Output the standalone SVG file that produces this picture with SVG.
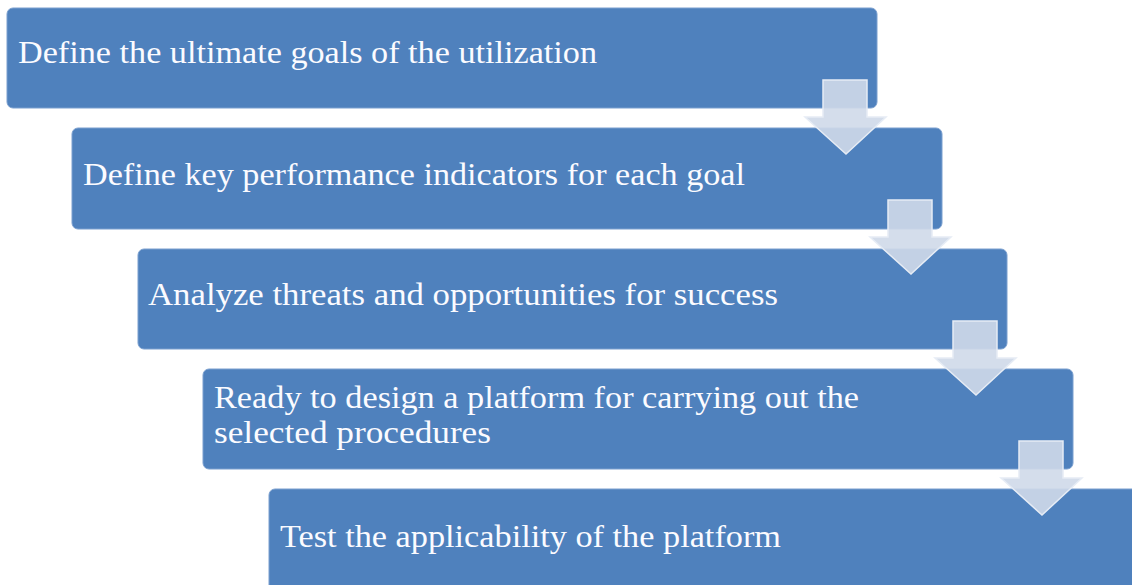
<svg xmlns="http://www.w3.org/2000/svg" width="1132" height="585" viewBox="0 0 1132 585">
  <style>
    .step { fill: #4f81bd; stroke: #7a9fcf; stroke-width: 1; }
    .label { font-family: "Liberation Serif", "DejaVu Serif", serif; font-size: 31px; fill: #fbfbff; }
    .down { fill: #cfd9e9; fill-opacity: 0.9; stroke: #e6ecf5; stroke-width: 1.5; }
  </style>
  <rect width="1132" height="585" fill="#ffffff"/>

  <g id="step1">
    <rect class="step" x="7" y="8" width="870" height="100" rx="6"/>
    <text class="label" x="18" y="63" textLength="579" lengthAdjust="spacingAndGlyphs">Define the ultimate goals of the utilization</text>
  </g>
  <g id="step2">
    <rect class="step" x="72" y="128" width="870" height="101" rx="6"/>
    <text class="label" x="83" y="185" textLength="662" lengthAdjust="spacingAndGlyphs">Define key performance indicators for each goal</text>
  </g>
  <g id="step3">
    <rect class="step" x="138" y="249" width="869" height="100" rx="6"/>
    <text class="label" x="148" y="305" textLength="630" lengthAdjust="spacingAndGlyphs">Analyze threats and opportunities for success</text>
  </g>
  <g id="step4">
    <rect class="step" x="203" y="369" width="870" height="100" rx="6"/>
    <text class="label" x="214" y="408" textLength="645" lengthAdjust="spacingAndGlyphs">Ready to design a platform for carrying out the</text>
    <text class="label" x="214" y="443" textLength="277" lengthAdjust="spacingAndGlyphs">selected procedures</text>
  </g>
  <g id="step5">
    <rect class="step" x="269" y="489" width="900" height="120" rx="6"/>
    <text class="label" x="280" y="547" textLength="501" lengthAdjust="spacingAndGlyphs">Test the applicability of the platform</text>
  </g>

  <!-- down arrows linking each step to the next -->
  <g id="connectors">
    <path class="down" d="M823,80 H867 V117 H886 L846,154 L805,117 H823 Z"/>
    <path class="down" d="M888,200 H932 V237 H951 L911,274 L870,237 H888 Z"/>
    <path class="down" d="M953,321 H997 V358 H1016 L976,395 L935,358 H953 Z"/>
    <path class="down" d="M1019,441 H1063 V478 H1082 L1042,515 L1001,478 H1019 Z"/>
  </g>
</svg>
